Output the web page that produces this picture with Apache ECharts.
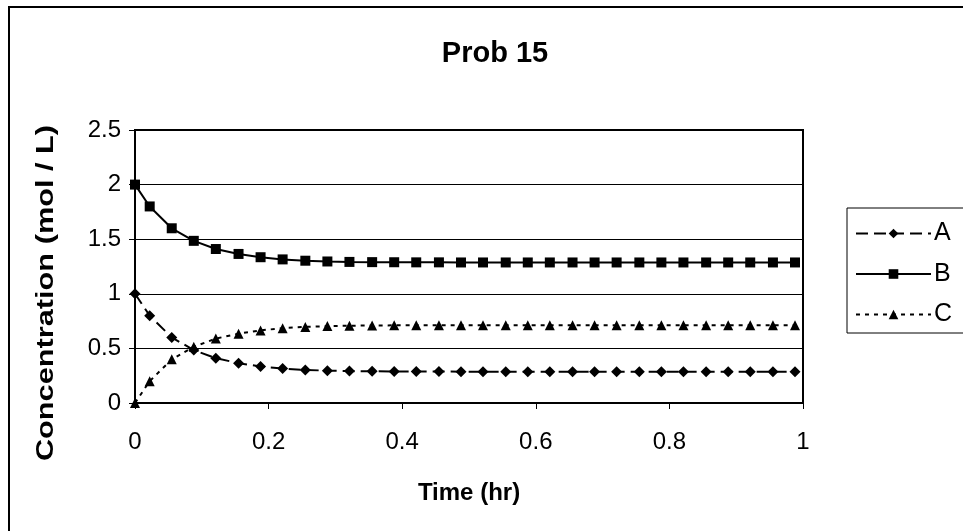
<!DOCTYPE html>
<html>
<head>
<meta charset="utf-8">
<script src="https://cdn.jsdelivr.net/npm/echarts@6/dist/echarts.min.js"></script>
<style>
html,body{margin:0;padding:0;background:#fff;}
#chart{width:963px;height:531px;}
</style>
</head>
<body>
<div id="chart"></div>
<script>
const titleText = "Prob 15";
const xAxisTitle = "Time (hr)";
const yAxisTitle = "Concentration (mol / L)";
const seriesNames = ["A", "B", "C"];
const time = [0, 0.022, 0.055, 0.088, 0.121, 0.155, 0.188, 0.221, 0.255, 0.288, 0.321, 0.355, 0.388, 0.421, 0.455, 0.488, 0.521, 0.555, 0.588, 0.621, 0.655, 0.688, 0.721, 0.755, 0.788, 0.821, 0.855, 0.888, 0.921, 0.955, 0.988];
const seriesA = [1, 0.80, 0.60, 0.485, 0.41, 0.365, 0.335, 0.315, 0.303, 0.296, 0.292, 0.290, 0.289, 0.288, 0.288, 0.287, 0.287, 0.287, 0.287, 0.287, 0.287, 0.287, 0.287, 0.287, 0.287, 0.287, 0.287, 0.287, 0.287, 0.287, 0.287];
const seriesB = [2, 1.80, 1.60, 1.485, 1.41, 1.365, 1.335, 1.315, 1.303, 1.296, 1.292, 1.290, 1.289, 1.288, 1.288, 1.287, 1.287, 1.287, 1.287, 1.287, 1.287, 1.287, 1.287, 1.287, 1.287, 1.287, 1.287, 1.287, 1.287, 1.287, 1.287];
const seriesC = [0, 0.20, 0.40, 0.515, 0.59, 0.635, 0.665, 0.685, 0.697, 0.704, 0.708, 0.710, 0.711, 0.712, 0.712, 0.713, 0.713, 0.713, 0.713, 0.713, 0.713, 0.713, 0.713, 0.713, 0.713, 0.713, 0.713, 0.713, 0.713, 0.713, 0.713];

const pairs = (xs, ys) => xs.map((x, i) => [x, ys[i]]);
const FONT = "'Liberation Sans', Arial, sans-serif";

const chart = echarts.init(document.getElementById('chart'), null, {renderer: 'canvas'});
const lineBase = (name, data, symbol, size, type) => ({
  name: name,
  type: 'line',
  data: data,
  symbol: symbol,
  symbolSize: size,
  showSymbol: true,
  animation: false,
  lineStyle: {color: '#000', width: 2, type: type},
  itemStyle: {color: '#000', borderWidth: 0},
  emphasis: {disabled: true}
});

chart.setOption({
  backgroundColor: '#fff',
  animation: false,
  title: {
    text: titleText,
    left: 490, top: 34, textAlign: 'center',
    textStyle: {fontFamily: FONT, fontSize: 29, fontWeight: 'bold', color: '#000'}
  },
  graphic: [{
    type: 'rect', silent: true, z: -10,
    shape: {x: 9, y: 7, width: 1000, height: 600},
    style: {fill: 'none', stroke: '#000', lineWidth: 2}
  }, {
    type: 'text', silent: true,
    x: 46, y: 293, rotation: Math.PI / 2, scaleX: 1.28,
    style: {
      text: yAxisTitle, fill: '#000',
      font: "bold 24px 'Liberation Sans', Arial, sans-serif",
      align: 'center', verticalAlign: 'middle'
    }
  }],
  legend: {
    left: 847, top: 208, orient: 'vertical',
    data: seriesNames,
    itemWidth: 75, itemHeight: 12, itemGap: 15.5,
    padding: [13, 20, 6, 8],
    borderColor: '#000', borderWidth: 1,
    textStyle: {fontFamily: FONT, fontSize: 25, lineHeight: 22, color: '#000', padding: [0, 0, 0, -2]},
    selectedMode: false
  },
  grid: {left: 135, right: 160, top: 130, bottom: 128, show: true, borderColor: '#000', borderWidth: 2, containLabel: false},
  xAxis: {
    type: 'value', min: 0, max: 1, interval: 0.2,
    name: xAxisTitle, nameLocation: 'middle', nameGap: 78,
    nameTextStyle: {fontFamily: FONT, fontSize: 24, fontWeight: 'bold', color: '#000'},
    axisLine: {show: true, lineStyle: {color: '#000', width: 2}},
    axisTick: {show: true, length: 6, inside: false, lineStyle: {color: '#000', width: 1}},
    axisLabel: {fontFamily: FONT, fontSize: 24, color: '#000', margin: 27},
    splitLine: {show: false}
  },
  yAxis: {
    type: 'value', min: 0, max: 2.5, interval: 0.5,
    axisLine: {show: true, lineStyle: {color: '#000', width: 2}},
    axisTick: {show: true, length: 6, inside: false, lineStyle: {color: '#000', width: 1}},
    axisLabel: {fontFamily: FONT, fontSize: 24, color: '#000', margin: 14},
    splitLine: {show: true, lineStyle: {color: '#000', width: 1}}
  },
  series: [
    lineBase(seriesNames[0], pairs(time, seriesA), 'diamond', 11, [12, 6]),
    lineBase(seriesNames[1], pairs(time, seriesB), 'rect', 10, 'solid'),
    lineBase(seriesNames[2], pairs(time, seriesC), 'triangle', 10, [4, 5])
  ]
});
</script>
</body>
</html>
